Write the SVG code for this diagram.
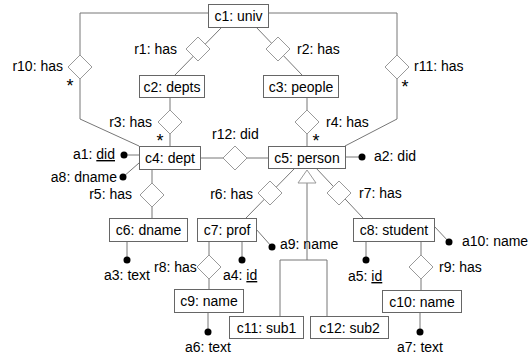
<svg xmlns="http://www.w3.org/2000/svg" width="530" height="356" viewBox="0 0 530 356">
<style>
text{font-family:"Liberation Sans",Arial,sans-serif;font-size:14px;fill:#000}
.box{fill:#fff;stroke:#666;stroke-width:1}
.dia{fill:#fff;stroke:#999;stroke-width:1}
.ln{fill:none;stroke:#777;stroke-width:1}
.dot{fill:#000}
.m{text-anchor:middle}
.e{text-anchor:end}
.ast{font-size:18px;text-anchor:middle}
.u{text-decoration:underline}
</style>
<rect width="530" height="356" fill="#fff"/>
<g id="connectors">
<polyline class="ln" points="208,13 80,13 80,119 139,146"/>
<polyline class="ln" points="268,13 397,13 397,119 345,146"/>
<line class="ln" x1="222" y1="27" x2="175" y2="75"/>
<line class="ln" x1="256" y1="27" x2="302" y2="75"/>
<line class="ln" x1="170" y1="97" x2="170" y2="146"/>
<line class="ln" x1="307" y1="97" x2="307" y2="146"/>
<line class="ln" x1="200" y1="158" x2="268" y2="158"/>
<line class="ln" x1="152" y1="170" x2="152" y2="218"/>
<line class="ln" x1="295" y1="168" x2="246" y2="218"/>
<line class="ln" x1="316" y1="168" x2="363" y2="218"/>
<line class="ln" x1="209" y1="241" x2="209" y2="289"/>
<line class="ln" x1="421" y1="241" x2="421" y2="291"/>
<line class="ln" x1="139" y1="155" x2="124" y2="155"/>
<line class="ln" x1="139" y1="163" x2="123" y2="177"/>
<line class="ln" x1="345" y1="157" x2="362" y2="157"/>
<line class="ln" x1="127" y1="241" x2="127" y2="260"/>
<line class="ln" x1="242" y1="241" x2="242" y2="260"/>
<line class="ln" x1="256" y1="229" x2="272" y2="247"/>
<line class="ln" x1="366" y1="241" x2="366" y2="260"/>
<line class="ln" x1="434" y1="226" x2="449" y2="242"/>
<line class="ln" x1="208" y1="313" x2="208" y2="332"/>
<line class="ln" x1="420" y1="313" x2="420" y2="332"/>
<line class="ln" x1="307" y1="183" x2="307" y2="260"/>
<polyline class="ln" points="280,317 280,260 327,260 327,317"/>
<polygon class="dia" points="307,170 298,183 316,183"/>
<text class="ast" x="70" y="92">*</text>
<text class="ast" x="160" y="147">*</text>
<text class="ast" x="316" y="147">*</text>
<text class="ast" x="405" y="93">*</text>
</g>
<g id="c1"><rect class="box" x="208.5" y="4.5" width="60" height="23"/><text class="m" x="238.5" y="21">c1: univ</text></g>
<g id="c2"><rect class="box" x="139.5" y="75.5" width="65" height="22"/><text class="m" x="172" y="92">c2: depts</text></g>
<g id="c3"><rect class="box" x="263.5" y="75.5" width="75" height="22"/><text class="m" x="301" y="92">c3: people</text></g>
<g id="c4"><rect class="box" x="139.5" y="146.5" width="61" height="23"/><text class="m" x="170" y="163">c4: dept</text></g>
<g id="c5"><rect class="box" x="268.5" y="146.5" width="77" height="22"/><text class="m" x="307" y="163">c5: person</text></g>
<g id="c6"><rect class="box" x="109.5" y="218.5" width="78" height="23"/><text class="m" x="148.5" y="235">c6: dname</text></g>
<g id="c7"><rect class="box" x="197.5" y="218.5" width="59" height="23"/><text class="m" x="227" y="235">c7: prof</text></g>
<g id="c8"><rect class="box" x="353.5" y="218.5" width="81" height="23"/><text class="m" x="394" y="235">c8: student</text></g>
<g id="c9"><rect class="box" x="174.5" y="289.5" width="69" height="23"/><text class="m" x="209" y="306">c9: name</text></g>
<g id="c10"><rect class="box" x="382.5" y="290.5" width="79" height="22"/><text class="m" x="422" y="307">c10: name</text></g>
<g id="c11"><rect class="box" x="229.5" y="316.5" width="74" height="22"/><text class="m" x="266.5" y="333">c11: sub1</text></g>
<g id="c12"><rect class="box" x="310.5" y="316.5" width="78" height="22"/><text class="m" x="349.5" y="333">c12: sub2</text></g>
<g id="r1"><polygon class="dia" points="198,37 210,49 198,61 186,49"/><text class="e" x="177" y="54">r1: has</text></g>
<g id="r2"><polygon class="dia" points="278,37 290,49 278,61 266,49"/><text x="297" y="54">r2: has</text></g>
<g id="r3"><polygon class="dia" points="170,110 182,122 170,134 158,122"/><text class="e" x="152" y="127">r3: has</text></g>
<g id="r4"><polygon class="dia" points="307,110 319,122 307,134 295,122"/><text x="326" y="127">r4: has</text></g>
<g id="r5"><polygon class="dia" points="152,183 164,195 152,207 140,195"/><text class="e" x="132" y="199">r5: has</text></g>
<g id="r6"><polygon class="dia" points="270,181 282,193 270,205 258,193"/><text class="e" x="253" y="199">r6: has</text></g>
<g id="r7"><polygon class="dia" points="339,181 351,193 339,205 327,193"/><text x="359" y="198">r7: has</text></g>
<g id="r8"><polygon class="dia" points="209,255 221,267 209,279 197,267"/><text x="154" y="272">r8: has</text></g>
<g id="r9"><polygon class="dia" points="421,255 433,267 421,279 409,267"/><text x="439" y="272">r9: has</text></g>
<g id="r10"><polygon class="dia" points="80,55 92,67 80,79 68,67"/><text class="e" x="63" y="71">r10: has</text></g>
<g id="r11"><polygon class="dia" points="397,55 409,67 397,79 385,67"/><text x="414" y="71">r11: has</text></g>
<g id="r12"><polygon class="dia" points="235,146 247,158 235,170 223,158"/><text x="212" y="139">r12: did</text></g>
<g id="a1"><circle class="dot" cx="124" cy="155" r="3.5"/><text class="e" x="115" y="159">a1: <tspan class="u">did</tspan></text></g>
<g id="a2"><circle class="dot" cx="362" cy="157" r="3.5"/><text x="374" y="161">a2: did</text></g>
<g id="a3"><circle class="dot" cx="127" cy="260" r="3.5"/><text class="m" x="127" y="280">a3: text</text></g>
<g id="a4"><circle class="dot" cx="242" cy="260" r="3.5"/><text x="223" y="280">a4: <tspan class="u">id</tspan></text></g>
<g id="a5"><circle class="dot" cx="366" cy="260" r="3.5"/><text x="348" y="281">a5: <tspan class="u">id</tspan></text></g>
<g id="a6"><circle class="dot" cx="208" cy="332" r="3.5"/><text class="m" x="208" y="352">a6: text</text></g>
<g id="a7"><circle class="dot" cx="420" cy="332" r="3.5"/><text class="m" x="420" y="352">a7: text</text></g>
<g id="a8"><circle class="dot" cx="123" cy="177" r="3.5"/><text class="e" x="117" y="182">a8: dname</text></g>
<g id="a9"><circle class="dot" cx="272" cy="247" r="3.5"/><text x="280" y="249">a9: name</text></g>
<g id="a10"><circle class="dot" cx="449" cy="242" r="3.5"/><text x="462" y="246">a10: name</text></g>
</svg>
